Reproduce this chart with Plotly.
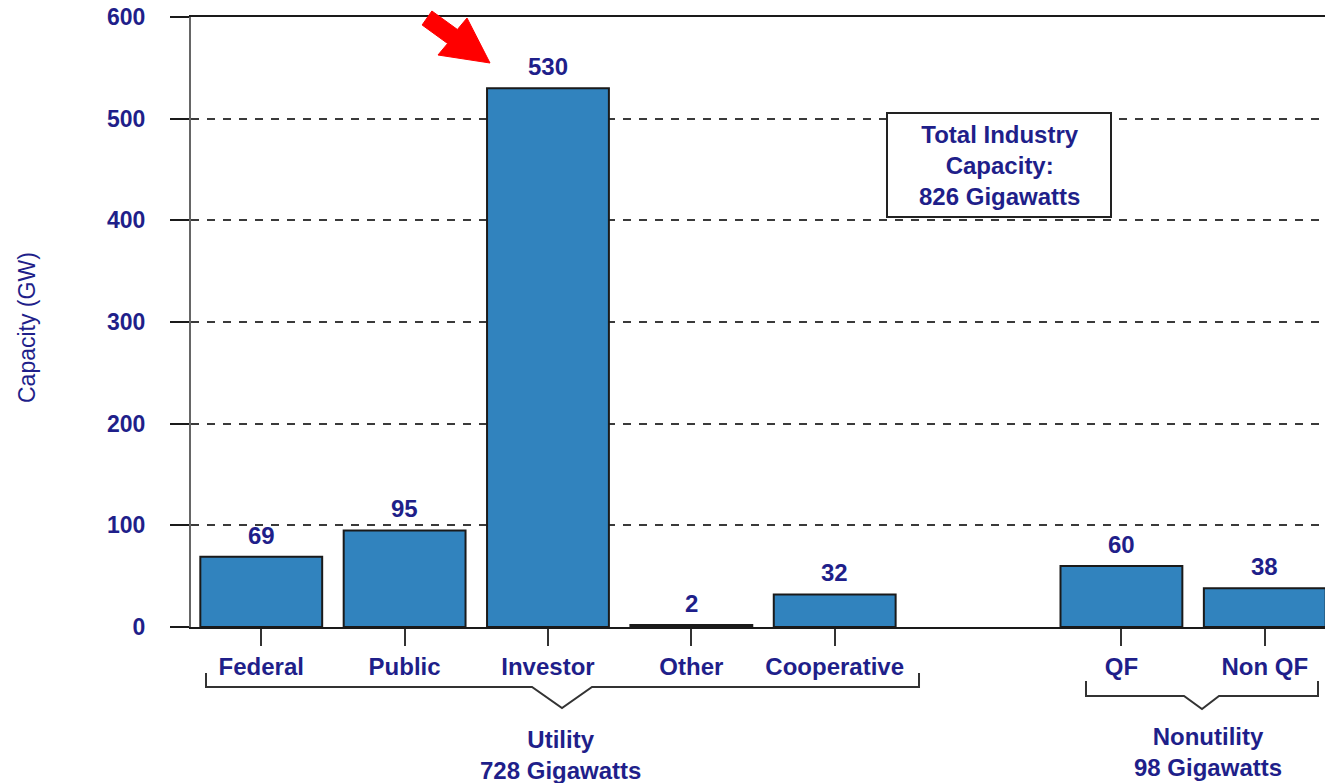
import plotly.graph_objects as go

# Generating capacity by ownership class (GW)
categories = ["Federal", "Public", "Investor", "Other", "Cooperative", "QF", "Non QF"]
positions = [0, 1, 2, 3, 4, 6, 7]          # slot 5 left empty between the two groups
capacity_gw = [69, 95, 530, 2, 32, 60, 38]
y_ticks = [0, 100, 200, 300, 400, 500, 600]

group_labels = ["Utility<br>728 Gigawatts", "Nonutility<br>98 Gigawatts"]
total_label = "Total Industry<br>Capacity:<br>826 Gigawatts"

NAVY = "#1f1f8a"
BAR = "#3183be"
FONT = "Liberation Sans, Arial, sans-serif"

W, H = 1325, 783
ML, MR, MT, MB = 191, 0, 17, 156
PW, PH = W - ML - MR, H - MT - MB


def px_x(x):
    """Pixel column -> paper x."""
    return (x - ML) / PW


def px_y(y):
    """Pixel row -> paper y."""
    return (H - MB - y) / PH


def px_path(points):
    return "M " + " L ".join(f"{px_x(x):.5f},{px_y(y):.5f}" for x, y in points) + " Z"


def open_path(points):
    return "M " + " L ".join(f"{px_x(x):.5f},{px_y(y):.5f}" for x, y in points)


fig = go.Figure(
    go.Bar(
        x=positions,
        y=capacity_gw,
        width=0.85,
        marker=dict(color=BAR, line=dict(color="#1a1a1a", width=2)),
        hoverinfo="skip",
    )
)

# value labels above each bar
annotations = [
    dict(x=x, y=v, xref="x", yref="y", text=f"<b>{v}</b>", showarrow=False,
         yanchor="bottom", yshift=6, font=dict(family=FONT, size=24, color=NAVY))
    for x, v in zip(positions, capacity_gw)
]

# axis title
annotations.append(dict(
    x=px_x(27), y=px_y(328), xref="paper", yref="paper", text="Capacity (GW)",
    textangle=-90, showarrow=False, xanchor="center", yanchor="middle",
    font=dict(family=FONT, size=23, color=NAVY)))

# group captions under the brackets
annotations.append(dict(
    x=px_x(560), y=px_y(755), xref="paper", yref="paper", text=f"<b>{group_labels[0]}</b>",
    showarrow=False, xanchor="center", yanchor="middle",
    font=dict(family=FONT, size=24, color=NAVY)))
annotations.append(dict(
    x=px_x(1208), y=px_y(752), xref="paper", yref="paper", text=f"<b>{group_labels[1]}</b>",
    showarrow=False, xanchor="center", yanchor="middle",
    font=dict(family=FONT, size=24, color=NAVY)))

# total capacity note
annotations.append(dict(
    x=px_x(999), y=px_y(165), xref="paper", yref="paper", text=f"<b>{total_label}</b>",
    showarrow=False, xanchor="center", yanchor="middle",
    font=dict(family=FONT, size=24, color=NAVY)))

shapes = [
    # box behind the total note
    dict(type="rect", xref="paper", yref="paper",
         x0=px_x(887), x1=px_x(1111), y0=px_y(217), y1=px_y(113),
         fillcolor="white", line=dict(color="#222222", width=2)),
    # utility bracket
    dict(type="path", xref="paper", yref="paper",
         path=open_path([(206, 673), (206, 687), (532, 687), (562, 708), (592, 687),
                         (919, 687), (919, 673)]),
         line=dict(color="#333333", width=2)),
    # nonutility bracket
    dict(type="path", xref="paper", yref="paper",
         path=open_path([(1086, 681), (1086, 696), (1184, 696), (1202, 709), (1219, 696),
                         (1318, 696), (1318, 681)]),
         line=dict(color="#333333", width=2)),
    # red pointer toward the investor bar
    dict(type="path", xref="paper", yref="paper",
         path=px_path([(431.9, 11), (457.4, 29.5), (467, 18), (490, 63),
                       (438, 55), (447.6, 43.5), (422.1, 25)]),
         fillcolor="#ff0000", line=dict(color="#ff0000", width=1)),
]

fig.update_layout(
    width=W, height=H,
    margin=dict(l=ML, r=MR, t=MT, b=MB, pad=0),
    paper_bgcolor="white", plot_bgcolor="white",
    showlegend=False,
    annotations=annotations,
    shapes=shapes,
    xaxis=dict(
        range=[-0.49, 7.42],
        tickmode="array", tickvals=positions, ticktext=categories,
        ticks="outside", ticklen=17, tickwidth=2, tickcolor="#333333",
        tickfont=dict(family=FONT, size=24, color=NAVY, weight="bold"),
        ticklabelstandoff=0,
        showgrid=False, zeroline=False,
        showline=True, linecolor="#1a1a1a", linewidth=2, mirror=True,
        fixedrange=True,
    ),
    yaxis=dict(
        range=[0, 600],
        tickmode="array", tickvals=y_ticks,
        ticks="outside", ticklen=19, tickwidth=2, tickcolor="#1a1a1a",
        tickfont=dict(family=FONT, size=23, color=NAVY, weight="bold"),
        ticklabelstandoff=20,
        showgrid=True, gridcolor="#3a3a3a", gridwidth=2, griddash="8px,8px",
        zeroline=False,
        showline=True, linecolor="#666666", linewidth=2,
        fixedrange=True,
    ),
)

fig.write_html("out.html")
